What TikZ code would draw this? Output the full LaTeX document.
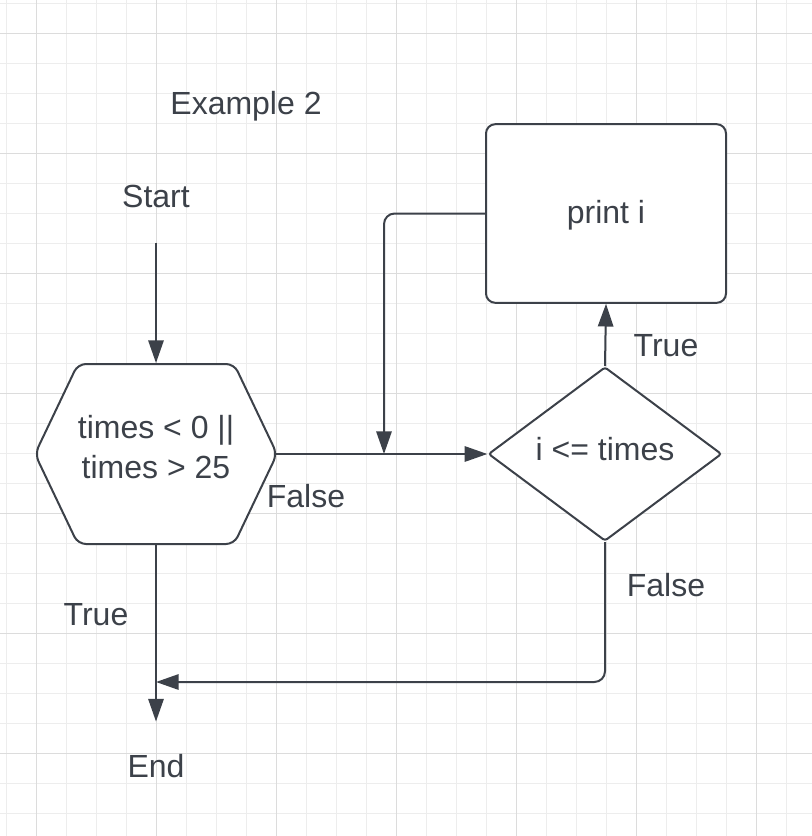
\documentclass[tikz,border=0pt]{standalone}
\usepackage{fontspec}
\setmainfont{Liberation Sans}
\definecolor{inkgray}{RGB}{60,65,73}
\definecolor{gridminor}{RGB}{237,237,237}
\definecolor{gridmajor}{RGB}{220,220,220}
\usetikzlibrary{arrows.meta,positioning,shapes.geometric,shapes.symbols}

\begin{document}
\begin{tikzpicture}[x=0.75pt, y=-0.75pt,
    every node/.style={text=inkgray, font=\fontsize{24}{30}\selectfont},
    shapeline/.style={draw=inkgray, line width=1.5pt, fill=white},
    hexbox/.style={shapeline, signal, signal to=west and east, signal from=nowhere,
      signal pointer angle=129, minimum width=177pt, minimum height=135pt,
      inner sep=0pt, rounded corners=6pt, align=center, text depth=10pt},
    decbox/.style={shapeline, diamond, minimum width=175pt, minimum height=130.5pt,
      inner sep=0pt, rounded corners=2pt, text depth=7pt},
    actbox/.style={shapeline, rectangle, minimum width=180pt, minimum height=134pt,
      rounded corners=7pt, text depth=3pt},
    flow/.style={draw=inkgray, line width=1.5pt, -{Triangle[length=17pt,width=11.5pt]}}]
  % canvas and grid
  \useasboundingbox (0,0) rectangle (812,836);
  \fill[white] (0,0) rectangle (812,836);
  \foreach \gx in {6.7,36.7,...,812} \draw[gridminor, line width=0.75pt] (\gx,0) -- (\gx,836);
  \foreach \gy in {3.3,33.3,...,836} \draw[gridminor, line width=0.75pt] (0,\gy) -- (812,\gy);
  \foreach \gx in {36.7,156.7,...,812} \draw[gridmajor, line width=0.75pt] (\gx,0) -- (\gx,836);
  \foreach \gy in {33.3,153.3,...,836} \draw[gridmajor, line width=0.75pt] (0,\gy) -- (812,\gy);

  \node (title) at (246,106) {Example 2};
  \node (start) at (156,196) {Start};
  \node[hexbox] (check) at (156,454) {times < 0 ||\\times > 25};
  \node[decbox] (loop) at (605,454) {i <= times};
  \node[actbox] (body) at (606,213.5) {print i};
  \node (stop) at (156,766) {End};

  \coordinate (join) at (384,454);
  \coordinate (merge) at (156,682);

  \draw[flow, shorten <=23pt] (start.south) -- (check.north);
  \draw[flow, shorten >=21pt] (check.south) -- (stop.north);
  \draw[flow, shorten <=-3pt] (check.east) -- (loop.west);
  \draw[flow] (loop.north) -- (body.south);
  \draw[flow, rounded corners=8pt] (body.west) -| (join);
  \draw[flow, rounded corners=8pt] (loop.south) |- (merge);

  \node (lblfalse) at (306,496) {False};
  \node (lbltrue) at (96,615) {True};
  \node (looptrue) at (666,346) {True};
  \node (loopfalse) at (666,585) {False};
\end{tikzpicture}
\end{document}
